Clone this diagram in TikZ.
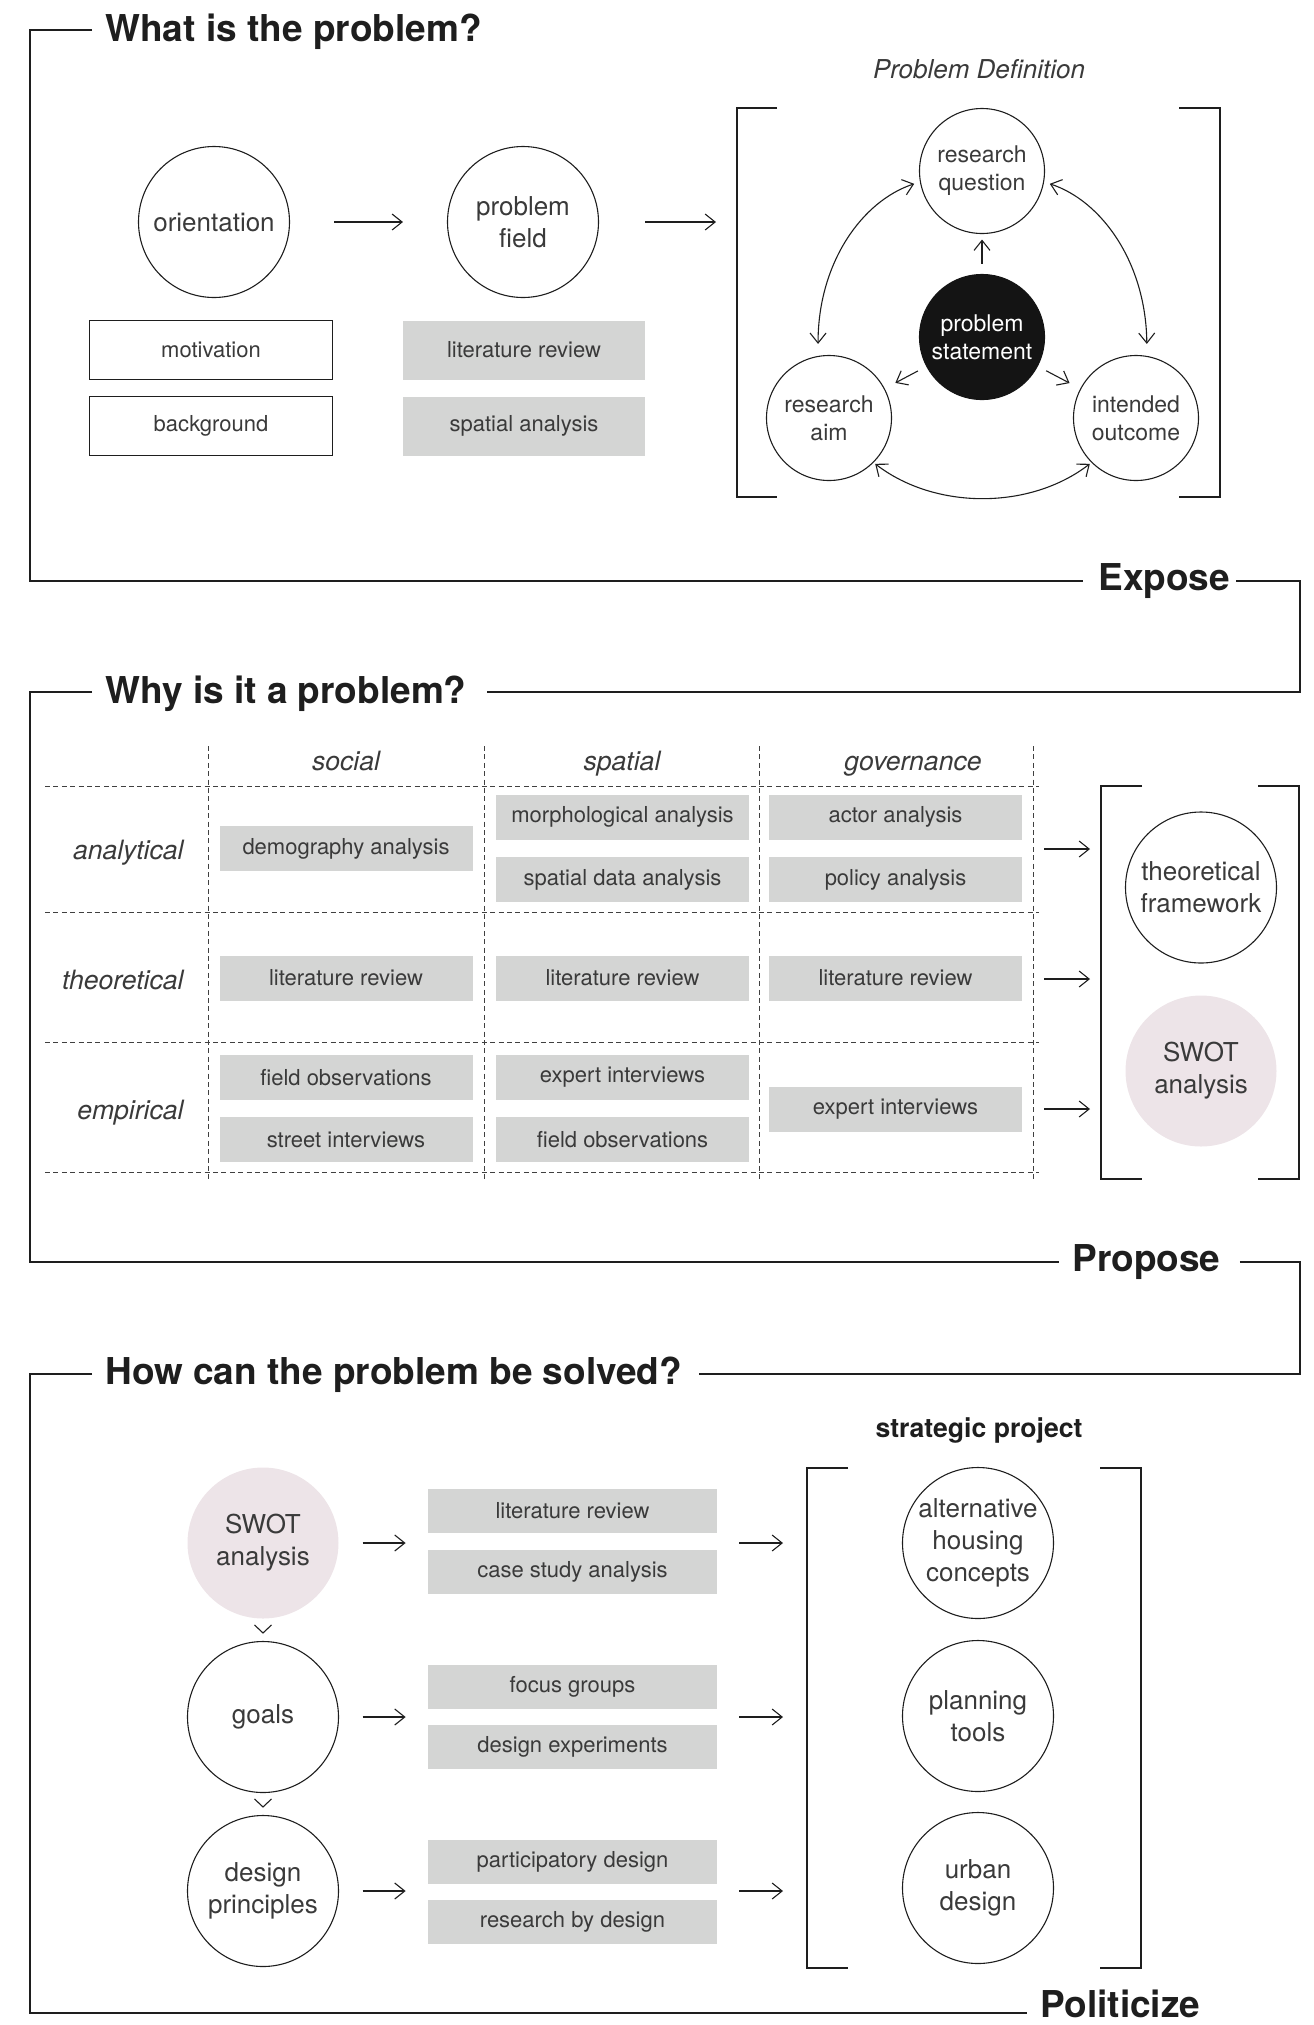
\documentclass[tikz,border=0pt]{standalone}
\usepackage{fontspec}
\setmainfont{TeX Gyre Heros}
\usetikzlibrary{arrows.meta,calc}
\definecolor{boxgray}{HTML}{D4D5D4}
\definecolor{swotpink}{HTML}{EDE4E8}
\definecolor{txt}{HTML}{3A3A3A}
\definecolor{ink}{HTML}{1E1E1E}
\begin{document}
\begin{tikzpicture}[x=0.5pt,y=-0.5pt,text=txt,
 frame/.style={draw=ink,line width=1.2pt},
 brk/.style={draw=ink,line width=1.05pt},
 ttl/.style={font=\fontsize{18.5}{20}\selectfont\bfseries,text=ink,inner sep=0pt,anchor=base west},
 circ/.style={circle,draw=ink,line width=0.55pt,minimum size=75.5pt,inner sep=0pt,align=center,font=\fontsize{13}{16}\selectfont},
 scirc/.style={circ,minimum size=62.5pt,font=\fontsize{11.5}{14}\selectfont},
 pinkc/.style={circ,draw=none,fill=swotpink},
 wbox/.style={draw=ink,line width=0.55pt,minimum width=121.5pt,minimum height=29.5pt,inner sep=0pt,font=\fontsize{11}{13}\selectfont},
 gbox/.style={fill=boxgray,minimum width=121pt,minimum height=29.5pt,inner sep=0pt,font=\fontsize{11}{13}\selectfont},
 tbox/.style={fill=boxgray,minimum width=126.5pt,minimum height=22.5pt,inner sep=0pt,font=\fontsize{11}{13}\selectfont},
 sbox/.style={fill=boxgray,minimum width=144.5pt,minimum height=22pt,inner sep=0pt,font=\fontsize{11}{13}\selectfont},
 lab/.style={font=\fontsize{13.3}{15}\selectfont\itshape,inner sep=0pt},
 arr/.style={draw=ink,line width=0.55pt,-{Straight Barb[length=5pt,width=8pt]}},
 dbl/.style={draw=ink,line width=0.55pt,{Straight Barb[length=5pt,width=8pt]}-{Straight Barb[length=5pt,width=8pt]}},
 dline/.style={draw=ink!85,line width=0.5pt,dash pattern=on 2.5pt off 1.7pt},
 thinl/.style={draw=ink,line width=0.55pt}]
\useasboundingbox (0,0) rectangle (1313,2025);

% ---------------- titles and frames ----------------
\node[ttl] (t1) at (105,41) {What is the problem?};
\node[ttl] (expose) at (1098,590) {Expose};
\node[ttl] (t2) at (105,703) {Why is it a problem?};
\node[ttl] (propose) at (1072,1271) {Propose};
\node[ttl] (t3) at (105,1384) {How can the problem be solved?};
\node[ttl] (polit) at (1040,2017) {Politicize};

\draw[frame] ($(t1.base west)+(-13,-11)$) -- (30,30) -- (30,581) -- ($(expose.base west)+(-15,-9)$);
\draw[frame] ($(expose.base east)+(6,-9)$) -- (1300,581) -- (1300,692) -- ($(t2.base east)+(20,-11)$);
\draw[frame] ($(t2.base west)+(-13,-11)$) -- (30,692) -- (30,1262) -- ($(propose.base west)+(-13,-9)$);
\draw[frame] ($(propose.base east)+(19,-9)$) -- (1300,1262) -- (1300,1374) -- ($(t3.base east)+(17,-10)$);
\draw[frame] ($(t3.base west)+(-13,-10)$) -- (30,1374) -- (30,2013) -- ($(polit.base west)+(-13,-4)$);

% ---------------- section 1 ----------------
\node[circ] (orient) at (214,222) {orientation};
\node[circ] (pfield) at (523,222) {problem\\field};
\node[wbox] (motiv) at (211,350) {motivation};
\node[wbox] (backg) at (211,426) {background};
\node[gbox] (lit1) at (524,350) {literature review};
\node[gbox] (spat1) at (524,426) {spatial analysis};
\coordinate (b1L) at (737,222);
\draw[arr,shorten <=22pt,shorten >=22pt] (orient) -- (pfield);
\draw[arr,shorten <=23pt,shorten >=10.5pt] (pfield) -- (b1L);

\node[font=\fontsize{13}{15}\selectfont\itshape,inner sep=0pt,anchor=base] (pdlab) at (979,78) {Problem Definition};
\draw[brk] (777,108) -- (737,108) -- (737,497) -- (777,497);
\draw[brk] (1179,108) -- (1220,108) -- (1220,497) -- (1179,497);

\node[scirc] (rq) at (982,171) {research\\question};
\node[scirc,fill=black!92,draw=black!92,text=white] (ps) at (982,337) {problem\\statement};
\node[scirc] (ra) at (829,418) {research\\aim};
\node[scirc] (io) at (1136,418) {intended\\outcome};

\draw[arr,shorten <=5pt,shorten >=2.75pt] (ps) -- (rq);
\draw[arr,shorten <=4.75pt,shorten >=6pt] (ps) -- (ra);
\draw[arr,shorten <=4.75pt,shorten >=6pt] (ps) -- (io);
\draw[dbl,shorten <=3pt,shorten >=6pt] (rq.190) .. controls (862,201) and (818,263) .. (ra.100);
\draw[dbl,shorten <=3pt,shorten >=6pt] (rq.-10) .. controls (1102,201) and (1146,263) .. (io.80);
\draw[dbl,shorten <=1pt,shorten >=1pt] (ra.-45) .. controls (935,510) and (1030,510) .. (io.-135);

% ---------------- section 2 ----------------
\foreach \x in {208,484,759,1033} \draw[dline] (\x,746) -- (\x,1181);
\foreach \y in {786,912,1042,1172} \draw[dline] (45,\y) -- (1039,\y);

\node[lab,anchor=base] (hsoc) at (346,770) {social};
\node[lab,anchor=base] (hspa) at (622,770) {spatial};
\node[lab,anchor=base] (hgov) at (913,770) {governance};
\node[lab,anchor=base east] (lana) at (184,859) {analytical};
\node[lab,anchor=base east] (lthe) at (184,989) {theoretical};
\node[lab,anchor=base east] (lemp) at (184,1119) {empirical};

\node[tbox] (demo) at (346,848.5) {demography analysis};
\node[tbox] (morph) at (622.5,817) {morphological analysis};
\node[tbox] (sdata) at (622.5,879.5) {spatial data analysis};
\node[tbox] (actor) at (895.5,817) {actor analysis};
\node[tbox] (policy) at (895.5,879.5) {policy analysis};
\node[tbox] (lit2a) at (346,978) {literature review};
\node[tbox] (lit2b) at (622.5,978) {literature review};
\node[tbox] (lit2c) at (895.5,978) {literature review};
\node[tbox] (fobs1) at (346,1077.5) {field observations};
\node[tbox] (street) at (346,1139.5) {street interviews};
\node[tbox] (exp1) at (622.5,1077.5) {expert interviews};
\node[tbox] (fobs2) at (622.5,1139.5) {field observations};
\node[tbox] (exp2) at (895.5,1109) {expert interviews};

\coordinate (b2L) at (1101,786);
\coordinate (rA) at (1039,849);
\coordinate (rT) at (1039,979);
\coordinate (rE) at (1039,1109);
\draw[arr,shorten <=2.5pt,shorten >=5.5pt] (rA) -- (rA -| b2L);
\draw[arr,shorten <=2.5pt,shorten >=5.5pt] (rT) -- (rT -| b2L);
\draw[arr,shorten <=2.5pt,shorten >=5.5pt] (rE) -- (rE -| b2L);

\draw[brk] (1142,786) -- (1101,786) -- (1101,1179) -- (1142,1179);
\draw[brk] (1258,786) -- (1299,786) -- (1299,1179) -- (1258,1179);
\node[circ] (tf) at (1201,887.5) {theoretical\\framework};
\node[pinkc] (swot2) at (1201,1071) {SWOT\\analysis};

% ---------------- section 3 ----------------
\node[font=\fontsize{13.3}{15}\selectfont\bfseries,text=ink,inner sep=0pt,anchor=base] (sp) at (979,1437) {strategic project};
\draw[brk] (848,1468) -- (807,1468) -- (807,1968) -- (848,1968);
\draw[brk] (1100,1468) -- (1141,1468) -- (1141,1968) -- (1100,1968);
\coordinate (b3L) at (807,1468);

\node[pinkc] (swot3) at (263,1543) {SWOT\\analysis};
\node[circ] (goals) at (263,1717) {goals};
\node[circ] (dprin) at (263,1891) {design\\principles};

\node[sbox] (lit3) at (572.5,1511) {literature review};
\node[sbox] (case) at (572.5,1572) {case study analysis};
\node[sbox] (focus) at (572.5,1686.5) {focus groups};
\node[sbox] (dexp) at (572.5,1747) {design experiments};
\node[sbox] (part) at (572.5,1862) {participatory design};
\node[sbox] (rbd) at (572.5,1922) {research by design};

\node[circ] (alt) at (978,1543) {alternative\\housing\\concepts};
\node[circ] (plan) at (978,1716) {planning\\tools};
\node[circ] (urban) at (978,1888) {urban\\design};

\draw[thinl] ($(goals.north)+(-8.5,-16)$) -- ($(goals.north)+(0,-8)$) -- ($(goals.north)+(8.5,-16)$);
\draw[thinl] ($(dprin.north)+(-8.5,-16)$) -- ($(dprin.north)+(0,-8)$) -- ($(dprin.north)+(8.5,-16)$);

\draw[arr,shorten <=11.75pt,shorten >=11pt] (swot3.east) -- (swot3.east -| lit3.west);
\draw[arr,shorten <=11.75pt,shorten >=11pt] (goals.east) -- (goals.east -| focus.west);
\draw[arr,shorten <=11.75pt,shorten >=11pt] (dprin.east) -- (dprin.east -| part.west);
\draw[arr,shorten <=11pt,shorten >=12pt] (swot3.east -| lit3.east) -- (swot3.east -| b3L);
\draw[arr,shorten <=11pt,shorten >=12pt] (goals.east -| focus.east) -- (goals.east -| b3L);
\draw[arr,shorten <=11pt,shorten >=12pt] (dprin.east -| part.east) -- (dprin.east -| b3L);
\end{tikzpicture}
\end{document}
